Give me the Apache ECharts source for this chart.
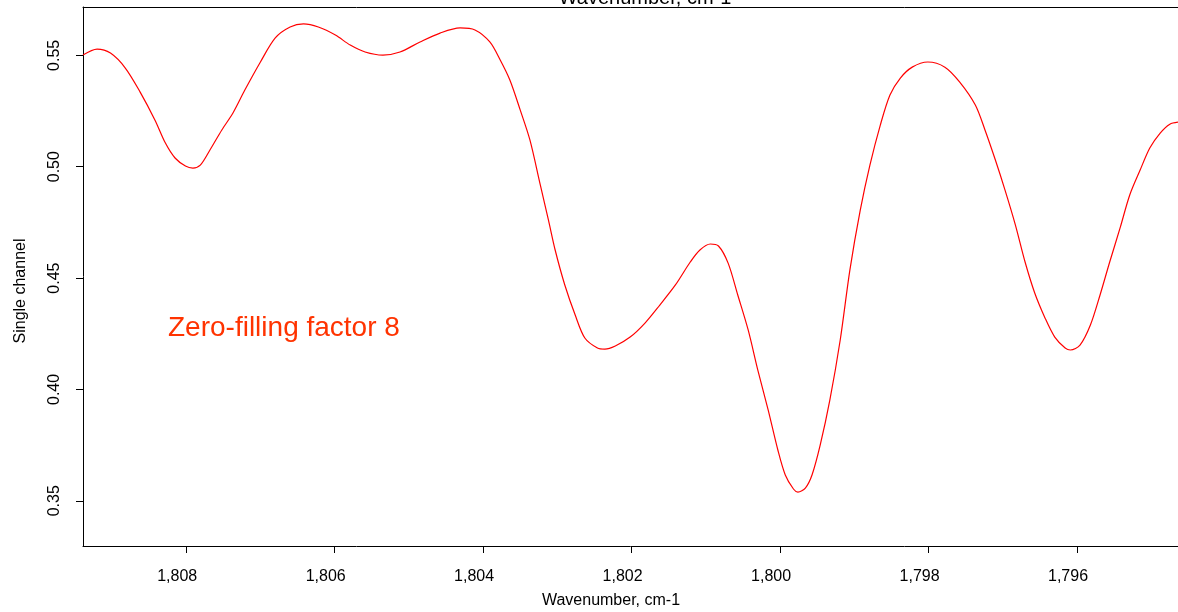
<!DOCTYPE html>
<html>
<head>
<meta charset="utf-8">
<script src="https://cdn.jsdelivr.net/npm/echarts@6/dist/echarts.min.js"></script>
<style>html,body{margin:0;padding:0;background:#fff;}#c{width:1178px;height:612px;}</style>
</head>
<body>
<div id="c"></div>
<script>
var wavenumbers = [1809.39,1809.20,1809.02,1808.82,1808.62,1808.42,1808.28,1808.15,1808.01,1807.91,1807.81,1807.68,1807.52,1807.37,1807.21,1807.00,1806.80,1806.60,1806.42,1806.22,1805.99,1805.79,1805.59,1805.35,1805.12,1804.85,1804.58,1804.31,1804.11,1803.91,1803.77,1803.64,1803.50,1803.37,1803.23,1803.12,1803.03,1802.90,1802.76,1802.63,1802.46,1802.36,1802.22,1802.02,1801.82,1801.62,1801.41,1801.21,1801.08,1800.94,1800.83,1800.70,1800.57,1800.43,1800.30,1800.16,1800.03,1799.93,1799.82,1799.76,1799.66,1799.57,1799.46,1799.33,1799.19,1799.06,1798.92,1798.79,1798.65,1798.52,1798.38,1798.22,1798.01,1797.78,1797.58,1797.37,1797.24,1797.10,1796.97,1796.83,1796.70,1796.57,1796.43,1796.30,1796.16,1796.09,1795.96,1795.82,1795.69,1795.56,1795.42,1795.29,1795.15,1795.02,1794.88,1794.75,1794.64];
var singleChannel = [0.5501,0.5528,0.5510,0.5443,0.5335,0.5209,0.5106,0.5039,0.5003,0.4994,0.5007,0.5075,0.5165,0.5241,0.5344,0.5470,0.5578,0.5627,0.5641,0.5627,0.5591,0.5546,0.5515,0.5501,0.5515,0.5560,0.5600,0.5623,0.5614,0.5560,0.5479,0.5389,0.5254,0.5120,0.4918,0.4760,0.4626,0.4469,0.4334,0.4231,0.4186,0.4181,0.4195,0.4235,0.4298,0.4379,0.4469,0.4572,0.4626,0.4653,0.4644,0.4567,0.4424,0.4267,0.4087,0.3907,0.3728,0.3616,0.3553,0.3539,0.3557,0.3616,0.3750,0.3952,0.4222,0.4536,0.4805,0.5007,0.5187,0.5322,0.5398,0.5447,0.5470,0.5447,0.5380,0.5277,0.5165,0.5030,0.4895,0.4738,0.4572,0.4433,0.4320,0.4235,0.4186,0.4177,0.4199,0.4289,0.4424,0.4572,0.4725,0.4873,0.4985,0.5084,0.5151,0.5191,0.5200];
var xTicks = [1808,1806,1804,1802,1800,1798,1796];
var yTicks = [0.35,0.40,0.45,0.50,0.55];
var xName = 'Wavenumber, cm-1';
var yName = 'Single channel';
var annotation = 'Zero-filling factor 8';

var pts = wavenumbers.map(function(w,i){return [w, singleChannel[i]];});
var font = 'Liberation Sans, Arial, sans-serif';
var chart = echarts.init(document.getElementById('c'), null, {renderer:'canvas'});
chart.setOption({
  animation:false,
  backgroundColor:'#fff',
  grid:{left:83, top:7, right:0, bottom:66, containLabel:false},
  xAxis:[{
    type:'value', inverse:true, min:1794.64, max:1809.39, position:'bottom',
    axisLine:{show:true, onZero:false, lineStyle:{color:'#000', width:1}},
    axisTick:{show:true, inside:false, length:7, customValues:xTicks, lineStyle:{color:'#000'}},
    axisLabel:{customValues:xTicks, margin:23, padding:[0,18,0,0], color:'#000', fontSize:16, fontFamily:font,
      formatter:function(v){return Math.round(v).toLocaleString('en-US');}},
    splitLine:{show:false}
  },{
    type:'value', inverse:true, min:1794.64, max:1809.39, position:'top',
    axisLine:{show:true, onZero:false, lineStyle:{color:'#000', width:1}},
    axisTick:{show:false}, axisLabel:{show:false}, splitLine:{show:false}
  }],
  yAxis:{
    type:'value', min:0.3297, max:0.5717,
    axisLine:{show:true, onZero:false, lineStyle:{color:'#000', width:1}},
    axisTick:{show:true, inside:false, length:7, customValues:yTicks, lineStyle:{color:'#000'}},
    axisLabel:{customValues:yTicks, rotate:90, margin:20, color:'#000', fontSize:16, fontFamily:font,
      formatter:function(v){return v.toFixed(2);}},
    splitLine:{show:false}
  },
  series:[{
    type:'line', data:pts, xAxisIndex:0, showSymbol:false, smooth:0.3,
    lineStyle:{color:'#ff0000', width:1.2}, silent:true
  }],
  graphic:[
    {type:'text', x:645, y:8, style:{text:xName, font:'20px '+font, fill:'#000', align:'center', verticalAlign:'bottom'}},
    {type:'text', x:611, y:601, style:{text:xName, font:'16px '+font, fill:'#000', align:'center', verticalAlign:'middle'}},
    {type:'text', x:21, y:291, rotation:Math.PI/2, style:{text:yName, font:'16px '+font, fill:'#000', align:'center', verticalAlign:'middle'}},
    {type:'text', x:168, y:328, style:{text:annotation, font:'28px '+font, fill:'#ff3300', align:'left', verticalAlign:'middle'}}
  ]
});
</script>
</body>
</html>
